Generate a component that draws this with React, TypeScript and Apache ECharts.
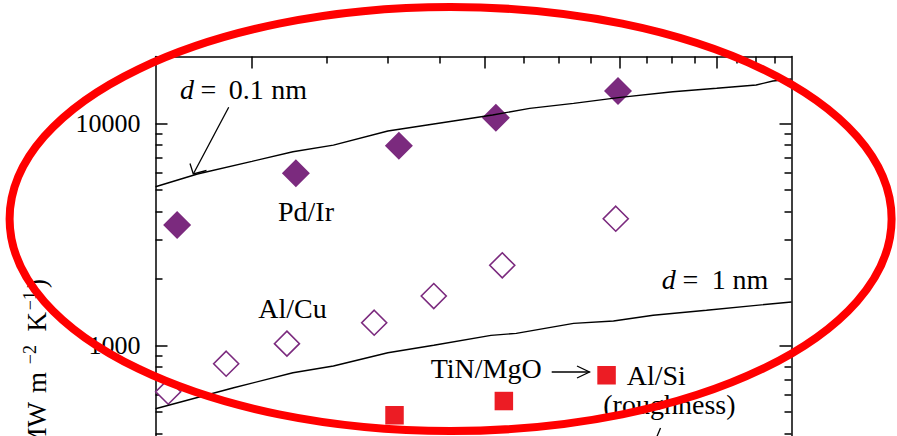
import { useEffect, useRef } from "react";
import * as echarts from "echarts";

const FONT = '"Liberation Serif", "Times New Roman", serif';
const PURPLE = "#7b2a7e";
const RED = "#ec1c24";

// Axis ticks (log axes)
const xMajorTicks = [100, 200, 300, 400];
const xMinorTicks = [125, 150, 175, 225, 250, 275, 325, 350, 375, 425, 450, 475];
const yMajorTicks = [1000, 10000];
const yMinorTicks = [200, 300, 400, 500, 600, 700, 800, 900, 2000, 3000, 4000, 5000, 6000, 7000, 8000, 9000];
const yTickLabels = [1000, 10000];

// Model curves
const curveD01: [number, number][] = [
  [75, 5180], [85, 5910], [100, 6740], [113, 7450], [127.5, 7980], [150, 9230], [172, 9930],
  [186, 10350], [205, 10900], [229, 11680], [261, 12300], [300, 13090], [351, 13880],
  [400, 14380], [450, 14880], [473, 15510], [500, 15830],
];
const curveD1: [number, number][] = [
  [75, 518], [94.7, 644], [113, 752], [127.5, 807], [150, 926], [172, 1000], [204, 1109],
  [220, 1132], [261, 1256], [294, 1286], [331, 1365], [388, 1438], [450, 1514], [500, 1567],
];

// Measurements
const pdIr: [number, number][] = [[80, 3480], [114, 5960], [155, 7930], [207, 10600], [298, 13980]];
const alCu: [number, number][] = [[77.9, 618], [92.6, 826], [111, 1017], [144, 1264], [172, 1667], [211, 2293], [296, 3718]];
const tinMgO: [number, number][] = [[288, 733]];
const alSi: [number, number][] = [[153, 484], [212, 561]];

function buildOption() {
  const black = { color: "#000", width: 1.5 };
  const xBase = {
    type: "log",
    logBase: 10,
    min: 75,
    max: 500,
    position: "top",
    splitLine: { show: false },
    axisLabel: { show: false },
  };
  const yBase = {
    type: "log",
    logBase: 10,
    min: 100,
    max: 20000,
    splitLine: { show: false },
    axisLabel: { show: false },
  };
  // baseline-positioned text (middle = baseline - 0.33 * size)
  const txt = (text: string, x: number, baseline: number, align = "left", size = 28, extra: any = {}) => ({
    type: "text",
    x,
    y: baseline - 0.33 * size,
    z: 50,
    style: {
      text,
      fontFamily: FONT,
      fontSize: size,
      fill: "#000",
      align,
      textAlign: align,
      verticalAlign: "middle",
      textVerticalAlign: "middle",
      ...extra,
    },
  });
  // rotated (reading upwards) text; endY = top end on screen, baselineX = baseline position
  const vtxt = (text: string, endY: number, baselineX: number, size: number) => ({
    type: "text",
    x: baselineX - 0.33 * size,
    y: endY,
    rotation: Math.PI / 2,
    z: 50,
    style: {
      text,
      fontFamily: FONT,
      fontSize: size,
      fill: "#000",
      align: "right",
      textAlign: "right",
      verticalAlign: "middle",
      textVerticalAlign: "middle",
    },
  });
  const italic = { fontStyle: "italic" };
  return {
    animation: false,
    backgroundColor: "#fff",
    grid: { left: 155.5, right: 105.5, top: 56.5, bottom: -131.3, outerBoundsMode: "none", containLabel: false },
    xAxis: [
      {
        ...xBase,
        axisLine: { show: true, lineStyle: black },
        axisTick: { show: true, inside: true, length: 12, customValues: xMajorTicks, lineStyle: black },
      },
      {
        ...xBase,
        axisLine: { show: false },
        axisTick: { show: true, inside: true, length: 7, customValues: xMinorTicks, lineStyle: black },
      },
    ],
    yAxis: [
      {
        ...yBase,
        position: "left",
        axisLine: { show: true, lineStyle: black },
        axisTick: { show: true, inside: true, length: 12, customValues: yMajorTicks, lineStyle: black },
        axisLabel: {
          show: true,
          customValues: yTickLabels,
          formatter: (v: number) => String(Math.round(v)),
          fontFamily: FONT,
          fontSize: 26,
          color: "#000",
          margin: 15,
        },
      },
      {
        ...yBase,
        position: "left",
        axisLine: { show: false },
        axisTick: { show: true, inside: true, length: 7, customValues: yMinorTicks, lineStyle: black },
      },
      {
        ...yBase,
        position: "right",
        axisLine: { show: true, lineStyle: black },
        axisTick: { show: true, inside: true, length: 12, customValues: yMajorTicks, lineStyle: black },
      },
      {
        ...yBase,
        position: "right",
        axisLine: { show: false },
        axisTick: { show: true, inside: true, length: 7, customValues: yMinorTicks, lineStyle: black },
      },
    ],
    series: [
      {
        name: "Pd/Ir",
        type: "scatter",
        data: pdIr,
        symbol: "diamond",
        symbolSize: [28, 28],
        itemStyle: { color: PURPLE, opacity: 1 },
      },
      {
        name: "Al/Cu",
        type: "scatter",
        data: alCu,
        symbol: "diamond",
        symbolSize: [25, 25],
        itemStyle: { color: "#fff", borderColor: PURPLE, borderWidth: 1.6, opacity: 1 },
      },
      {
        name: "Al/Si",
        type: "scatter",
        data: alSi,
        symbol: "rect",
        symbolSize: [18.5, 18.5],
        itemStyle: { color: RED, opacity: 1 },
      },
      {
        name: "TiN/MgO",
        type: "scatter",
        data: tinMgO,
        symbol: "rect",
        symbolSize: [18.5, 18.5],
        itemStyle: { color: RED, opacity: 1 },
      },
      {
        name: "d = 0.1 nm",
        type: "line",
        data: curveD01,
        showSymbol: false,
        symbol: "none",
        lineStyle: { color: "#000", width: 1.4 },
      },
      {
        name: "d = 1 nm",
        type: "line",
        data: curveD1,
        showSymbol: false,
        symbol: "none",
        lineStyle: { color: "#000", width: 1.4 },
      },
    ],
    graphic: [
      // y-axis title pieces (rotated, partially visible like the reference)
      vtxt(")", 279, 45.5, 27),
      vtxt("−1", 291, 35.5, 18),
      vtxt("K", 312, 45.5, 27),
      vtxt("−2", 345, 35.5, 18),
      vtxt("m", 372, 45.5, 27),
      vtxt("(MW", 402, 45.5, 27),
      // d = 0.1 nm
      txt("d", 180, 99, "left", 28, italic),
      txt("=", 208.5, 99, "center", 28),
      txt("0.1", 228.7, 99, "left", 28),
      txt("nm", 307, 99, "right", 28),
      txt("Pd/Ir", 278, 220.5, "left", 28),
      txt("Al/Cu", 258.3, 317.7, "left", 28),
      // d = 1 nm
      txt("d", 661.7, 288.7, "left", 28, italic),
      txt("=", 690.5, 288.7, "center", 28),
      txt("1", 711.7, 288.7, "left", 28),
      txt("nm", 768.3, 288.7, "right", 28),
      txt("TiN/MgO", 541.7, 377.7, "right", 28),
      txt("Al/Si", 626.7, 385, "left", 28),
      txt("(roughness)", 603.3, 413.5, "left", 28),
      // arrow for d = 0.1 nm
      { type: "line", z: 50, shape: { x1: 228.7, y1: 107.3, x2: 193.3, y2: 174 }, style: { stroke: "#000", lineWidth: 1.3 } },
      {
        type: "polyline",
        z: 50,
        shape: { points: [[190, 163.5], [193.3, 174], [206.5, 170.5]] },
        style: { stroke: "#000", lineWidth: 1.3, fill: null },
      },
      // arrow TiN/MgO
      { type: "line", z: 50, shape: { x1: 551.7, y1: 372, x2: 589.5, y2: 372 }, style: { stroke: "#000", lineWidth: 1.3 } },
      {
        type: "polyline",
        z: 50,
        shape: { points: [[577, 366], [589.5, 372], [577, 378]] },
        style: { stroke: "#000", lineWidth: 1.3, fill: null },
      },
      // small line below (roughness)
      { type: "line", z: 50, shape: { x1: 660.5, y1: 428, x2: 655.5, y2: 440 }, style: { stroke: "#000", lineWidth: 1.3 } },
      // red ellipse overlay
      {
        type: "ellipse",
        z: 100,
        shape: { cx: 450.6, cy: 219, rx: 441, ry: 212 },
        style: { fill: null, stroke: "#ff0000", lineWidth: 8 },
      },
    ],
  };
}

export default function App() {
  const ref = useRef<HTMLDivElement>(null);
  useEffect(() => {
    const chart = echarts.init(ref.current!, null, { renderer: "svg" });
    chart.setOption(buildOption() as any);
    return () => chart.dispose();
  }, []);
  return (
    <div
      ref={ref}
      style={{ position: "fixed", left: 0, top: 0, width: 897, height: 436, background: "#fff" }}
    />
  );
}
